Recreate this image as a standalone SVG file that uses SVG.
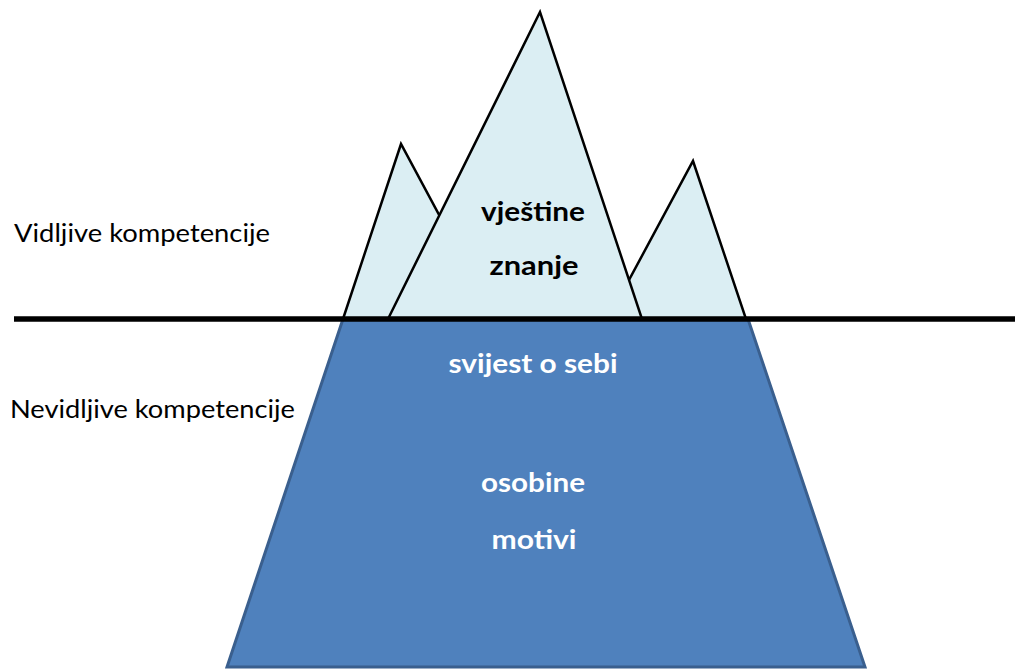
<svg xmlns="http://www.w3.org/2000/svg" width="1015" height="669" viewBox="0 0 1015 669">
<style>
.peak{fill:#DBEEF3;stroke:#000;stroke-width:2.5;stroke-linejoin:miter}
.base{fill:#4F81BD;stroke:#3A5F8E;stroke-width:3}
.in{font-family:Lato,"Open Sans","Liberation Sans",sans-serif;font-weight:bold;font-size:26px;text-anchor:middle}
.side{font-family:Lato,"Open Sans","Liberation Sans",sans-serif;font-size:25px;fill:#000}
</style>
<rect width="1015" height="669" fill="#fff"/>
<g id="underwater">
<polygon class="base" points="343,319 748,319 865,667 227,667"/>
<text class="in" x="533" y="373" fill="#fff" textLength="169" lengthAdjust="spacingAndGlyphs">svijest o sebi</text>
<text class="in" x="533" y="492" fill="#fff" textLength="104" lengthAdjust="spacingAndGlyphs">osobine</text>
<text class="in" x="534" y="549" fill="#fff" textLength="85" lengthAdjust="spacingAndGlyphs">motivi</text>
</g>
<g id="peak-left"><polygon class="peak" points="343,319 401,144 495,319"/></g>
<g id="peak-right"><polygon class="peak" points="608,319 693,161 746,319"/></g>
<g id="peak-main">
<polygon class="peak" points="388,319 540,12 642,319"/>
<text class="in" x="533" y="221" fill="#000" textLength="104" lengthAdjust="spacingAndGlyphs">vještine</text>
<text class="in" x="534" y="275" fill="#000" textLength="89" lengthAdjust="spacingAndGlyphs">znanje</text>
</g>
<g id="connectors">
<line x1="14" y1="319" x2="1015" y2="319" stroke="#000" stroke-width="5.5"/>
</g>
<g id="labels">
<text class="side" x="14" y="242" textLength="256" lengthAdjust="spacingAndGlyphs">Vidljive kompetencije</text>
<text class="side" x="10" y="418" textLength="285" lengthAdjust="spacingAndGlyphs">Nevidljive kompetencije</text>
</g>
</svg>
